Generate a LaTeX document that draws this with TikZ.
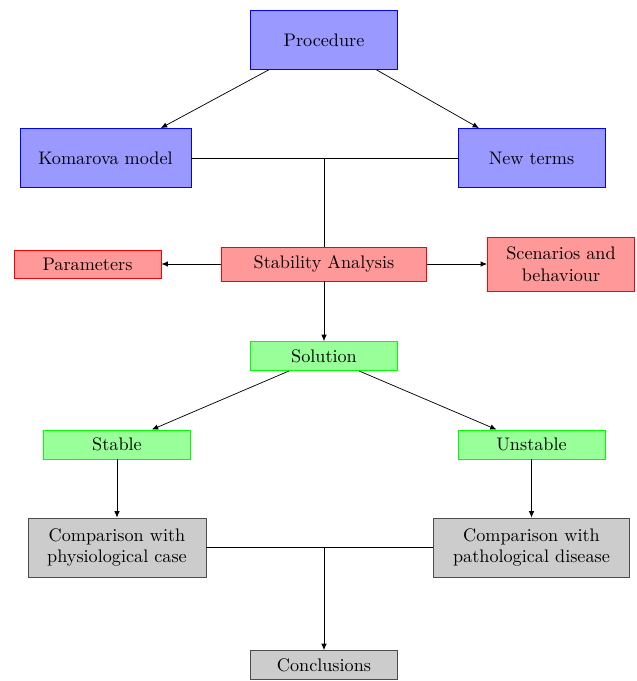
\documentclass[tikz,border=0pt]{standalone}
\usepackage{tikz}
\usetikzlibrary{positioning, arrows.meta, calc}

\begin{document}
\begin{tikzpicture}[>={Latex[length=3.5pt, width=3pt]}, x=0.55pt, y=-0.55pt,
  box/.style={draw, inner sep=1pt, align=center, minimum width=81pt, minimum height=16pt},
  bluebox/.style={box, draw=blue, fill=blue!40, minimum height=32.5pt},
  redbox/.style={box, draw=red, fill=red!40},
  greenbox/.style={box, draw=green, fill=green!40},
  graybox/.style={box, draw=black!70, fill=black!20}]
  \useasboundingbox (0,0) rectangle (636,681);

  % Model part
  \node[bluebox] (proc) at (324,40) {Procedure};
  \node[bluebox, minimum width=94pt] (kom) at (105.5,158) {Komarova model};
  \node[bluebox] (newt) at (531.5,158) {New terms};

  % Analysis part
  \node[redbox, minimum width=113pt, minimum height=18.7pt] (anal) at (324,264) {Stability Analysis};
  \node[redbox, minimum height=15.4pt] (param) at (87.5,264) {Parameters};
  \node[redbox, minimum height=29.7pt] (scen) at (561,264) {Scenarios and\\behaviour};

  % Solutions
  \node[greenbox] (sol) at (324,356) {Solution};
  \node[greenbox] (stab) at (117,444.5) {Stable};
  \node[greenbox] (unstab) at (531.5,444.5) {Unstable};

  % Comparisons
  \node[graybox, minimum width=98pt, minimum height=32.5pt] (physio) at (117,547.5) {Comparison with\\physiological case};
  \node[graybox, minimum width=108pt, minimum height=32.5pt] (patho) at (531.5,547.5) {Comparison with\\pathological disease};
  \node[graybox] (concl) at (324,665) {Conclusions};

  \coordinate (join1) at (kom -| anal);
  \coordinate (join2) at (physio -| concl);

  % Connectors
  \draw[->] (proc) -- (kom);
  \draw[->] (proc) -- (newt);
  \draw (kom) -- (newt);
  \draw (join1) -- (anal);
  \draw[->] (anal) -- (param);
  \draw[->] (anal) -- (scen);
  \draw[->] (anal) -- (sol);
  \draw[->] (sol) -- (stab);
  \draw[->] (sol) -- (unstab);
  \draw[->] (stab) -- (physio);
  \draw[->] (unstab) -- (patho);
  \draw (physio) -- (patho);
  \draw[->] (join2) -- (concl);
\end{tikzpicture}
\end{document}
